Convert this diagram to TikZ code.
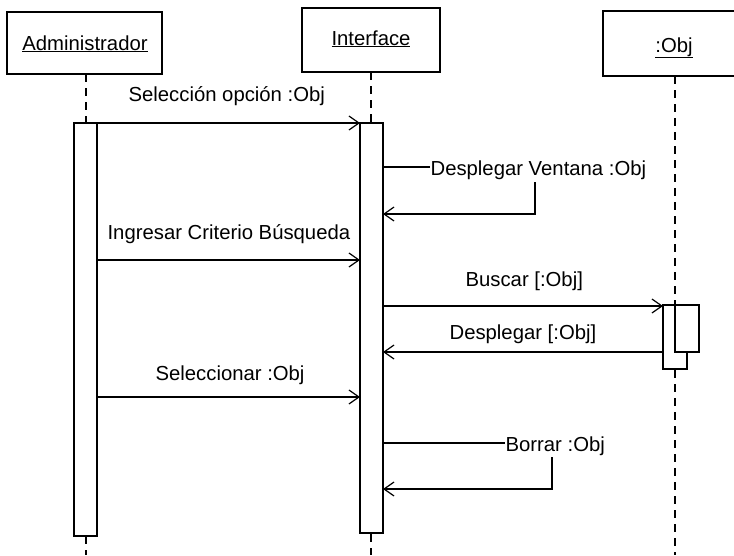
\documentclass[tikz,border=0pt]{standalone}
\usepackage{fontspec}
\setmainfont{Liberation Sans}
\usetikzlibrary{arrows.meta}
\begin{document}
\begin{tikzpicture}[x=1pt,y=-1pt,line width=1.2pt,
  font=\fontsize{20.3pt}{24pt}\selectfont,
  objbox/.style={draw,fill=white},
  lifeline/.style={dash pattern=on 8pt off 6pt},
  actbox/.style={draw,fill=white},
  msg/.style={-{Straight Barb[length=10pt,width=14pt,line width=1.2pt]}},
  lbl/.style={inner sep=0pt,anchor=base west},
  head/.style={inner sep=0pt,anchor=base}]
\useasboundingbox (0,0) rectangle (734,555);
\clip (0,0) rectangle (734,555);

% object heads
\draw[objbox] (7,12) rectangle (162,74);
\node[head] (adm) at (85,50) {\underline{Administrador}};
\draw[objbox] (302,8) rectangle (440,72);
\node[head] (int) at (371,45) {\underline{Interface}};
\draw[objbox] (603,11) rectangle (745,76);
\node[head] (obj) at (674,52) {\underline{:Obj}};

% lifelines
\coordinate (admtop) at (86,74);
\coordinate (admbot) at (86,555);
\coordinate (inttop) at (371,72);
\coordinate (intbot) at (371,555);
\coordinate (objtop) at (675,76);
\coordinate (objbot) at (675,555);
\draw[lifeline] (admtop) -- (admbot);
\draw[lifeline] (inttop) -- (intbot);
\draw[lifeline] (objtop) -- (objbot);

% activation bars
\draw[actbox] (74,123) rectangle (97,536);
\draw[actbox] (360,123) rectangle (383,533);
\draw[actbox] (663,305) rectangle (687,369);
\draw[actbox] (675,305) rectangle (699,352);

% Selección opción
\coordinate (m1a) at (97,123);
\coordinate (m1b) at (360,123);
\draw[msg] (m1a) -- (m1b);
\node[lbl] (t1) at (128,101) {Selección opción :Obj};

% Desplegar Ventana (self call)
\node[lbl] (t2) at (430,175) {Desplegar Ventana :Obj};
\coordinate (m2a) at (383,167);
\coordinate (m2b) at (535,182);
\coordinate (m2c) at (383,214);
\draw (m2a) -- (t2.west |- m2a);
\draw[msg] (m2b) -- (m2b |- m2c) -- (m2c);

% Ingresar Criterio Búsqueda
\coordinate (m3a) at (97,260);
\coordinate (m3b) at (360,260);
\draw[msg] (m3a) -- (m3b);
\node[lbl] (t3) at (107,239) {Ingresar Criterio Búsqueda};

% Buscar
\coordinate (m4a) at (383,306);
\coordinate (m4b) at (663,306);
\draw[msg] (m4a) -- (m4b);
\node[lbl] (t4) at (465,286) {Buscar [:Obj]};

% Desplegar
\coordinate (m5a) at (663,352);
\coordinate (m5b) at (383,352);
\draw[msg] (m5a) -- (m5b);
\node[lbl] (t5) at (449,339) {Desplegar [:Obj]};

% Seleccionar
\coordinate (m6a) at (97,397);
\coordinate (m6b) at (360,397);
\draw[msg] (m6a) -- (m6b);
\node[lbl] (t6) at (155,380) {Seleccionar :Obj};

% Borrar (self call)
\node[lbl] (t7) at (505,451) {Borrar :Obj};
\coordinate (m7a) at (383,443);
\coordinate (m7b) at (552,457);
\coordinate (m7c) at (383,489);
\draw (m7a) -- (t7.west |- m7a);
\draw[msg] (m7b) -- (m7b |- m7c) -- (m7c);
\end{tikzpicture}
\end{document}
